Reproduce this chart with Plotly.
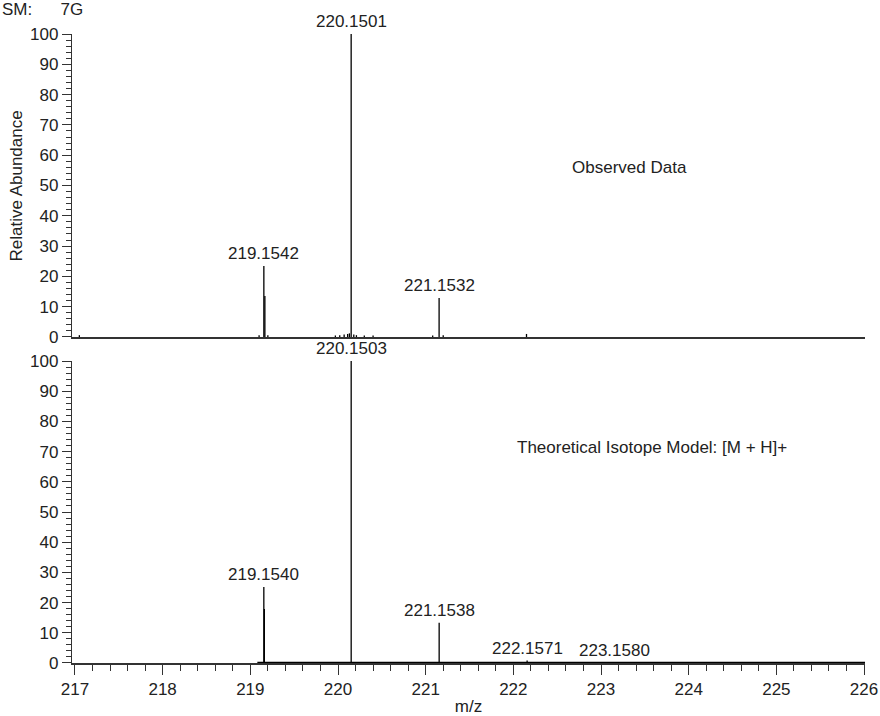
import plotly.graph_objects as go

# ---------------- data ----------------
# Observed spectrum (top panel): centroid sticks (m/z, relative abundance)
obs_mz = [217.05, 219.10, 219.1542, 219.166, 219.20, 219.97, 220.02, 220.07, 220.11,
          220.13, 220.1501, 220.18, 220.21, 220.30, 220.40, 221.08, 221.1532, 221.20, 222.15]
obs_int = [0.6, 0.6, 23.4, 13.5, 0.6, 0.5, 0.6, 0.8, 1.0,
           1.2, 100.0, 0.8, 0.6, 0.5, 0.5, 0.5, 12.9, 0.6, 1.0]
obs_label_mz = [219.1542, 220.1501, 221.1532]
obs_label_int = [23.4, 100.0, 12.9]

# Theoretical isotope model (bottom panel)
theo_mz = [219.1540, 219.160, 220.1503, 221.1538, 222.1571, 223.1580]
theo_int = [25.2, 17.9, 100.0, 13.3, 0.8, 0.1]
theo_label_mz = [219.1540, 220.1503, 221.1538, 222.1571, 223.1580]
theo_label_int = [25.2, 100.0, 13.3, 0.8, 0.1]
theo_profile_range = [219.08, 226.011]

x_range = [216.966, 226.011]
y_ticks = [0, 10, 20, 30, 40, 50, 60, 70, 80, 90, 100]
x_ticks = [217, 218, 219, 220, 221, 222, 223, 224, 225, 226]

FONT = "Liberation Sans, Arial, sans-serif"
TXT = "#222222"
AX = "#333333"


def sticks(mz, inten):
    xs, ys = [], []
    for m, h in zip(mz, inten):
        xs += [m, m, None]
        ys += [0, h, None]
    return xs, ys


fig = go.Figure()

ox, oy = sticks(obs_mz, obs_int)
fig.add_trace(go.Scatter(x=ox, y=oy, mode="lines", line=dict(color="black", width=1.3),
                         xaxis="x", yaxis="y", hoverinfo="skip"))

# theoretical baseline (profile at ~0)
fig.add_trace(go.Scatter(x=theo_profile_range, y=[0, 0], mode="lines",
                         line=dict(color="black", width=2.5), xaxis="x2", yaxis="y2",
                         hoverinfo="skip"))
tx, ty = sticks(theo_mz, theo_int)
fig.add_trace(go.Scatter(x=tx, y=ty, mode="lines", line=dict(color="black", width=1.3),
                         xaxis="x2", yaxis="y2", hoverinfo="skip"))

annotations = []
for m, h in zip(obs_label_mz, obs_label_int):
    annotations.append(dict(x=m, y=h, xref="x", yref="y", text=f"{m:.4f}", showarrow=False,
                            xanchor="center", yanchor="bottom", yshift=1,
                            font=dict(family=FONT, size=17, color=TXT)))
for m, h in zip(theo_label_mz, theo_label_int):
    annotations.append(dict(x=m, y=h, xref="x2", yref="y2", text=f"{m:.4f}", showarrow=False,
                            xanchor="center", yanchor="bottom", yshift=1,
                            font=dict(family=FONT, size=17, color=TXT)))

annotations += [
    dict(x=223.33, y=56, xref="x", yref="y", text="Observed Data", showarrow=False,
         xanchor="center", yanchor="middle", font=dict(family=FONT, size=17, color=TXT)),
    dict(x=223.58, y=71.5, xref="x2", yref="y2", text="Theoretical Isotope Model: [M + H]+",
         showarrow=False, xanchor="center", yanchor="middle",
         font=dict(family=FONT, size=17, color=TXT)),
    dict(x=-0.0694, y=0.759, xref="paper", yref="paper", text="Relative Abundance",
         textangle=-90, showarrow=False, xanchor="center", yanchor="middle",
         font=dict(family=FONT, size=17, color=TXT)),
    dict(x=-0.0908, y=1.0, xref="paper", yref="paper", yshift=25,
         text="SM:" + "\u00a0" * 6 + "7G", showarrow=False, xanchor="left", yanchor="middle",
         font=dict(family=FONT, size=17, color=TXT)),
]

yaxis_common = dict(range=[0, 100], tickvals=y_ticks, ticks="outside", ticklen=9, tickwidth=1.2,
                    tickcolor=AX, showline=True, linecolor=AX, linewidth=1.3, showgrid=False,
                    zeroline=False, tickfont=dict(family=FONT, size=17, color=TXT),
                    minor=dict(dtick=2, ticks="outside", ticklen=5, tickwidth=1, tickcolor=AX),
                    fixedrange=True, automargin=False)

fig.update_layout(
    width=880, height=716,
    margin=dict(l=72, r=15, t=34, b=53, autoexpand=False),
    paper_bgcolor="white", plot_bgcolor="white",
    showlegend=False,
    xaxis=dict(domain=[0, 1], range=x_range, anchor="y", showline=True, linecolor=AX,
               linewidth=1.5, ticks="", showticklabels=False, showgrid=False, zeroline=False,
               automargin=False, fixedrange=True),
    yaxis=dict(domain=[0.5183, 1], anchor="x", **yaxis_common),
    xaxis2=dict(domain=[0, 1], range=x_range, anchor="y2", showline=True, linecolor=AX,
                linewidth=1.5, tickvals=x_ticks, ticks="outside", ticklen=10, tickwidth=1.2,
                tickcolor=AX, showgrid=False, zeroline=False, automargin=False, fixedrange=True,
                tickfont=dict(family=FONT, size=17, color=TXT),
                minor=dict(dtick=0.2, tick0=217, ticks="outside", ticklen=6, tickwidth=1,
                           tickcolor=AX),
                title=dict(text="m/z", font=dict(family=FONT, size=17, color=TXT), standoff=2)),
    yaxis2=dict(domain=[0, 0.4801], anchor="x2", **yaxis_common),
    annotations=annotations,
)

fig.write_html("out.html", config={"displayModeBar": False},
               post_script="document.body.style.margin='0';document.body.style.overflow='hidden';")
